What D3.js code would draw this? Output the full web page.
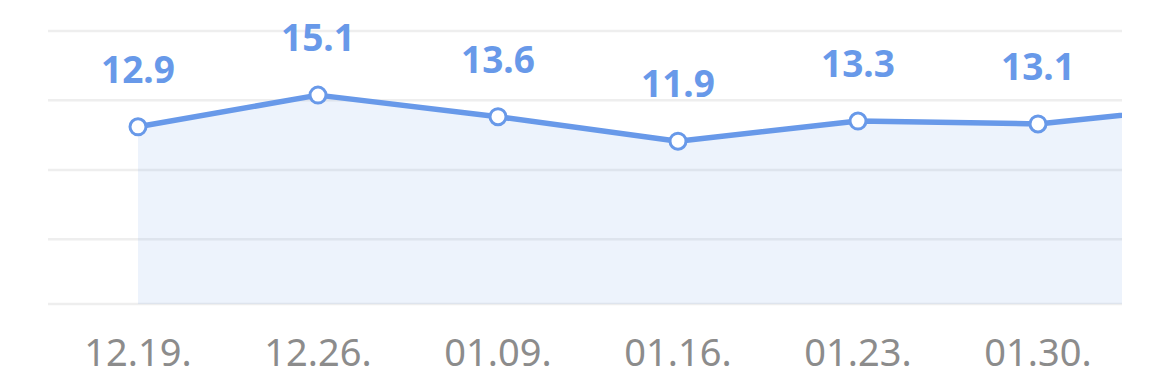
<!DOCTYPE html>
<html>
<head>
<meta charset="utf-8">
<script src="https://cdn.jsdelivr.net/npm/d3@7/dist/d3.min.js"></script>
<style>
  html, body { margin:0; padding:0; background:#fff; }
  svg { display:block; }
</style>
</head>
<body>
<svg id="chart" width="1170" height="389"></svg>
<script>
'use strict';
// weekly values; the last week is scrolled past the right edge
const weeks = ['12.19.','12.26.','01.09.','01.16.','01.23.','01.30.','02.06.'];
const values = [12.9, 15.1, 13.6, 11.9, 13.3, 13.1, 14.4];
const gridValues = [0.6, 5.1, 9.9, 14.75, 19.55];

const W = 1170, H = 389;
const plotL = 48, plotR = 1122, plotT = 31, plotB = 304;
const colLine = '#6899e9';

const svg = d3.select('#chart');
const x = d3.scaleBand().domain(weeks).range([plotL, plotL + weeks.length * 180]);
const y = d3.scaleLinear().domain([0.6, 19.55]).range([plotB, plotT]);
const cx = d => x(d) + x.bandwidth() / 2;

svg.append('defs').append('clipPath').attr('id','plot')
  .append('rect').attr('x', plotL).attr('y', 0).attr('width', plotR - plotL).attr('height', H);

const pts = weeks.map((w, i) => ({ w, v: values[i] }));
const shown = pts.filter(d => cx(d.w) < plotR);

const plot = svg.append('g').attr('clip-path','url(#plot)');

plot.append('g').selectAll('line').data(gridValues).join('line')
  .attr('x1', plotL).attr('x2', plotR)
  .attr('y1', d => y(d)).attr('y2', d => y(d))
  .attr('stroke','#eeeeee').attr('stroke-width', 2.5);

const area = d3.area().x(d => cx(d.w)).y0(y(0.6)).y1(d => y(d.v));
plot.append('path').datum(pts).attr('d', area)
  .attr('fill', colLine).attr('fill-opacity', 0.12);

const line = d3.line().x(d => cx(d.w)).y(d => y(d.v));
plot.append('path').datum(pts).attr('d', line)
  .attr('fill','none').attr('stroke', colLine).attr('stroke-width', 5.5)
  .attr('stroke-linejoin','round');

plot.append('g').selectAll('circle').data(shown).join('circle')
  .attr('cx', d => cx(d.w)).attr('cy', d => y(d.v)).attr('r', 8)
  .attr('fill','#fff').attr('stroke', colLine).attr('stroke-width', 3);

plot.append('g').selectAll('text').data(shown).join('text')
  .attr('x', d => cx(d.w)).attr('y', d => y(d.v) - 44)
  .attr('text-anchor','middle')
  .attr('fill', colLine)
  .style('font-family','"Noto Sans", sans-serif').style('font-weight','bold').style('font-size','37px')
  .text(d => d.v.toFixed(1));

plot.append('g').selectAll('text').data(shown).join('text')
  .attr('x', d => cx(d.w)).attr('y', 366)
  .attr('text-anchor','middle')
  .attr('fill','#8c8c8c')
  .style('font-family','"Noto Sans", sans-serif').style('font-size','38px')
  .text(d => d.w);
</script>
</body>
</html>
